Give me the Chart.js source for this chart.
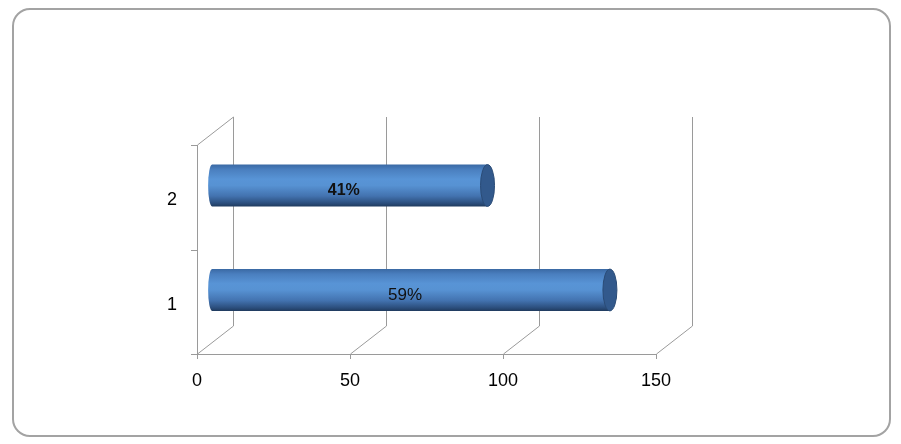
<!DOCTYPE html>
<html>
<head>
<meta charset="utf-8">
<script src="https://cdn.jsdelivr.net/npm/chart.js@4"></script>
<style>
  html, body { margin: 0; padding: 0; background: #fff; }
  #wrap { position: relative; width: 901px; height: 444px; }
  #frame {
    position: absolute; left: 12px; top: 8px; width: 879px; height: 429px;
    border: 2px solid #a3a3a3; border-radius: 18px; box-sizing: border-box;
  }
  canvas { position: absolute; left: 0; top: 0; }
</style>
</head>
<body>
<div id="wrap">
  <div id="frame"></div>
  <canvas id="myChart" width="901" height="444"></canvas>
</div>
<script>
// data
const categories = ['1', '2'];
const values = [130, 90];
const xTicks = [0, 50, 100, 150];

const total = values.reduce((a, b) => a + b, 0);
const shareLabels = values.map(v => Math.round(v / total * 100) + '%');

// depth of the 3d box
const depthX = 36, depthY = -28;
const gridColor = '#9a9a9a';
const fontFamily = '"Liberation Sans", Arial, sans-serif';

function cylinder(ctx, x0, x1, yc, h) {
    const ry = h / 2, rx = 7;
    const top = yc - ry, bot = yc + ry;
    const g = ctx.createLinearGradient(0, top, 0, bot);
    g.addColorStop(0, '#3a69a4');
    g.addColorStop(0.12, '#4a7fbf');
    g.addColorStop(0.35, '#5894d6');
    g.addColorStop(0.5, '#5792d3');
    g.addColorStop(0.75, '#4373b0');
    g.addColorStop(0.92, '#2c4f7e');
    g.addColorStop(1, '#203b5f');
    ctx.fillStyle = g;
    ctx.beginPath();
    ctx.moveTo(x1, top);
    ctx.lineTo(x0, top);
    ctx.ellipse(x0, yc, 4, ry, 0, -Math.PI / 2, Math.PI / 2, true);
    ctx.lineTo(x1, bot);
    ctx.closePath();
    ctx.fill();
    // end cap
    ctx.fillStyle = '#32598c';
    ctx.strokeStyle = '#2a4b76';
    ctx.lineWidth = 1;
    ctx.beginPath();
    ctx.ellipse(x1, yc, rx, ry, 0, 0, Math.PI * 2);
    ctx.fill();
    ctx.stroke();
}

const box3d = {
    id: 'box3d',
    beforeDatasetsDraw(chart) {
        const ctx = chart.ctx;
        const xs = chart.scales.x, ys = chart.scales.y;
        const top = ys.top, bottom = ys.bottom, left = xs.left;
        ctx.save();
        ctx.strokeStyle = gridColor;
        ctx.lineWidth = 1;
        ctx.beginPath();
        xTicks.forEach(v => {
            const px = Math.round(xs.getPixelForValue(v)) + 0.5;
            ctx.moveTo(px, bottom);
            ctx.lineTo(px + depthX, bottom + depthY);
            ctx.lineTo(px + depthX, top + depthY);
            // tick mark
            ctx.moveTo(px, bottom);
            ctx.lineTo(px, bottom + 5);
        });
        // floor front edge
        ctx.moveTo(left, bottom + 0.5);
        ctx.lineTo(xs.right, bottom + 0.5);
        // left wall
        ctx.moveTo(left + 0.5, bottom);
        ctx.lineTo(left + 0.5, top);
        ctx.lineTo(left + 0.5 + depthX, top + depthY);
        // y tick marks on category edges
        [top, (top + bottom) / 2, bottom].forEach(y => {
            const yy = Math.round(y) + 0.5;
            ctx.moveTo(left - 6, yy);
            ctx.lineTo(left, yy);
        });
        ctx.stroke();
        ctx.restore();
    },
    beforeDatasetDraw() {
        return false;
    },
    afterDatasetsDraw(chart) {
        const ctx = chart.ctx;
        const meta = chart.getDatasetMeta(0);
        const sx = depthX * 0.42, sy = depthY * 0.42;
        ctx.save();
        meta.data.forEach((bar, i) => {
            cylinder(ctx, bar.base + sx, bar.x + sx, bar.y + sy, bar.height);
            ctx.fillStyle = '#111';
            ctx.font = i === 1 ? 'bold 16px ' + fontFamily : '17px ' + fontFamily;
            ctx.textAlign = 'center';
            ctx.textBaseline = 'middle';
            ctx.fillText(shareLabels[i], (bar.base + bar.x) / 2 + sx - 6, bar.y + sy + 5);
        });
        ctx.restore();
    }
};

var ctx = document.getElementById('myChart').getContext('2d');
var myChart = new Chart(ctx, {
    type: 'bar',
    data: {
        labels: categories,
        datasets: [{
            data: values,
            backgroundColor: '#4f81bd',
            categoryPercentage: 0.8,
            barPercentage: 0.5
        }]
    },
    options: {
        indexAxis: 'y',
        responsive: false,
        animation: false,
        layout: { padding: { left: 0, right: 245, top: 145, bottom: 0 } },
        plugins: {
            legend: { display: false },
            tooltip: { enabled: false }
        },
        scales: {
            x: {
                min: 0,
                max: 150,
                ticks: {
                    stepSize: 50,
                    padding: 16,
                    color: '#000',
                    font: { family: fontFamily, size: 18 }
                },
                grid: { display: false, drawTicks: false },
                border: { display: false },
                afterFit(scale) { scale.height = 90; }
            },
            y: {
                reverse: true,
                ticks: {
                    padding: 20,
                    labelOffset: 3,
                    color: '#000',
                    font: { family: fontFamily, size: 18 }
                },
                grid: { display: false, drawTicks: false },
                border: { display: false },
                afterFit(scale) { scale.width = 197; }
            }
        }
    },
    plugins: [box3d]
});
</script>
</body>
</html>
